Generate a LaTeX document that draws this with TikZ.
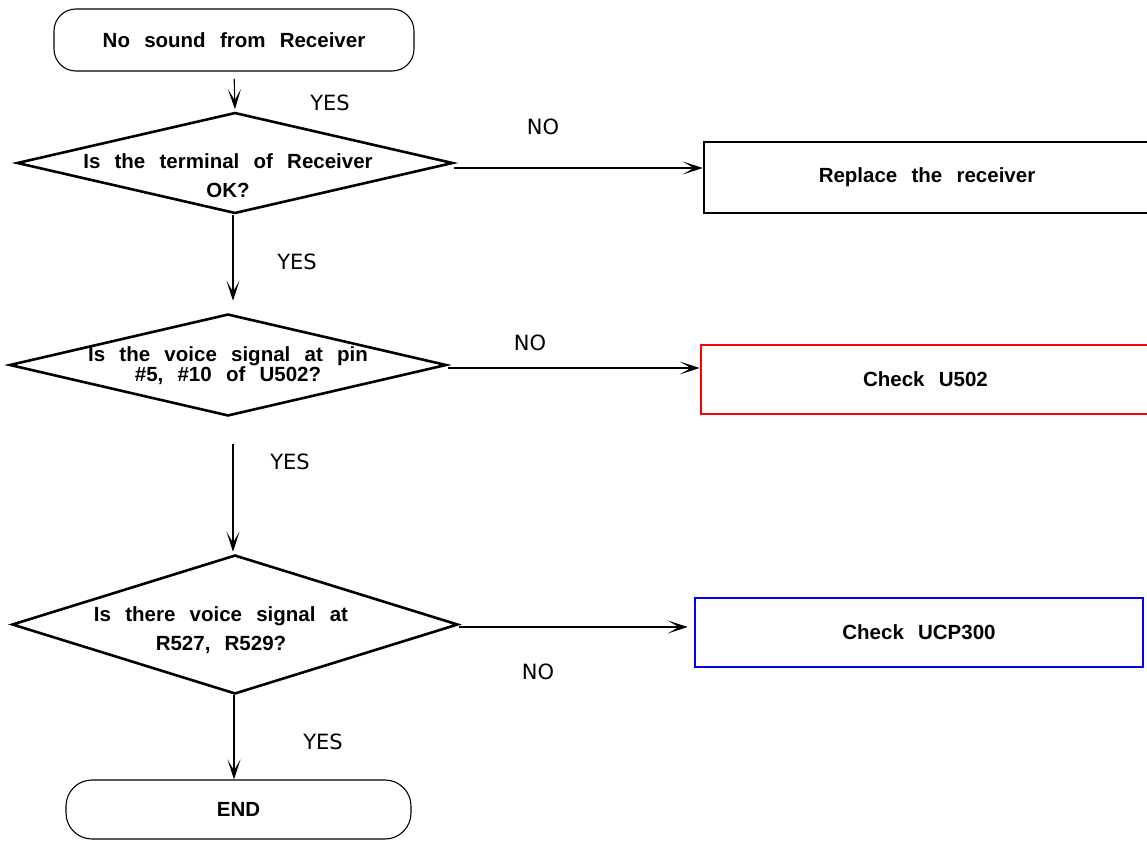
\documentclass[tikz,border=0pt]{standalone}
\usepackage{fontspec}
\setmainfont{Liberation Sans}
\newfontfamily\boxfont[WordSpace=2.5]{Liberation Sans}
\newfontfamily\answerfont{DejaVu Sans}
\usetikzlibrary{shapes.geometric,arrows.meta}

\begin{document}
\begin{tikzpicture}[x=1pt, y=-1pt,
term/.style={rectangle, draw=black, rounded corners=22pt, line width=1.1pt, font=\boxfont\bfseries\fontsize{20.5}{24}\selectfont},
decision/.style={diamond, draw=black, line width=2.6pt, inner sep=0pt},
qtext/.style={align=center, inner sep=0pt, font=\boxfont\bfseries\fontsize{20.5}{29}\selectfont},
action/.style={rectangle, draw=#1, line width=2.6pt, font=\boxfont\bfseries\fontsize{20.5}{24}\selectfont},
answer/.style={font=\answerfont\fontsize{21}{24}\selectfont},
link/.style={-{Stealth[length=20pt, width=13pt, inset=11pt]}, line width=1.1pt},
]
\useasboundingbox (0,0) rectangle (1147,840);
%Nodes
\node[term, minimum width=360pt, minimum height=62pt] at (234,40) (start) {No sound from Receiver};
\node[decision, minimum width=436pt, minimum height=101pt] at (235,163) (q1) {};
\node[qtext] at (228,176) (q1t) {Is the terminal of Receiver\\OK?};
\node[action=black, minimum width=446pt, minimum height=71pt] at (927,177.5) (b1) {Replace the receiver};
\node[decision, minimum width=437pt, minimum height=102pt] at (228,365) (q2) {};
\node[qtext, font=\boxfont\bfseries\fontsize{20.5}{17}\selectfont] at (228,366) (q2t) {Is the voice signal at pin\\\#5, \#10 of U502?};
\node[action=red, minimum width=449pt, minimum height=69pt] at (925.5,379.5) (b2) {Check U502};
\node[decision, minimum width=446pt, minimum height=139pt] at (235,624.5) (q3) {};
\node[qtext] at (221,630) (q3t) {Is there voice signal at\\R527, R529?};
\node[action=blue, minimum width=448pt, minimum height=69pt] at (919,632.5) (b3) {Check UCP300};
\node[term, rounded corners=26pt, minimum width=345pt, minimum height=59pt] at (238.5,809.5) (end) {END};
%Labels
\node[answer] at (330,103) (yes1) {YES};
\node[answer] at (543,127) (no1) {NO};
\node[answer] at (297,262) (yes2) {YES};
\node[answer] at (530,343) (no2) {NO};
\node[answer] at (290,462) (yes3) {YES};
\node[answer] at (538,672) (no3) {NO};
\node[answer] at (323,742) (yes4) {YES};
%Lines
\draw[link, shorten <=7pt, shorten >=2pt] (start.south) -- (q1.north);
\draw[link] ([yshift=-5pt]q1.east) -- ([yshift=-5pt]q1.east -| b1.west);
\draw[link, shorten >=12pt] ([xshift=-2pt]q1.south) -- ([xshift=-2pt]q1.south |- q2.north);
\draw[link] ([yshift=-3pt]q2.east) -- ([yshift=-3pt]q2.east -| b2.west);
\draw[link, shorten <=27pt, shorten >=2pt] ([xshift=5pt]q2.south) -- ([xshift=5pt]q2.south |- q3.north);
\draw[link, shorten >=6pt] ([yshift=-2.5pt]q3.east) -- ([yshift=-2.5pt]q3.east -| b3.west);
\draw[link] ([xshift=-1pt]q3.south) -- ([xshift=-1pt]q3.south |- end.north);
\end{tikzpicture}
\end{document}
